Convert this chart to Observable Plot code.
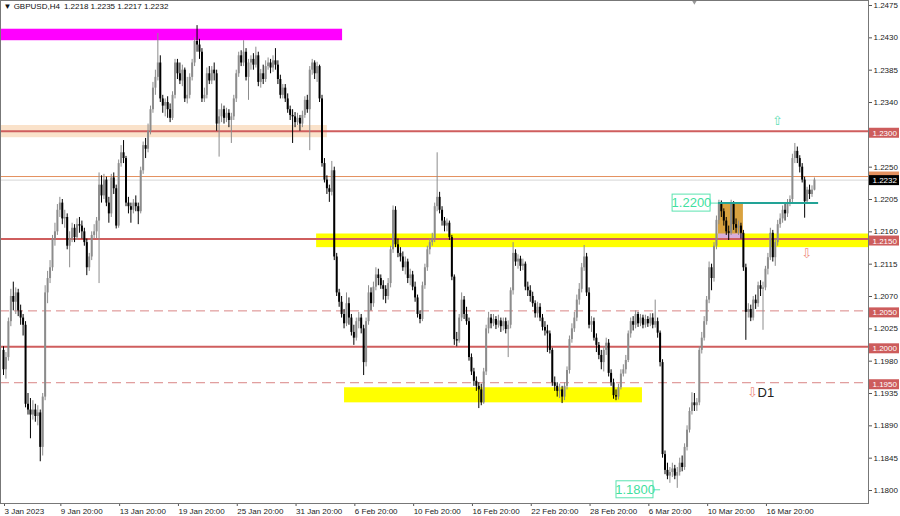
<!DOCTYPE html>
<html><head><meta charset="utf-8">
<script src="https://cdn.jsdelivr.net/npm/d3@7"></script>
<script src="https://cdn.jsdelivr.net/npm/@observablehq/plot@0.6"></script>
<style>
html,body{margin:0;padding:0;background:#fff;}
#chart{width:900px;height:516px;overflow:hidden;}
</style></head><body><div id="chart"></div>
<script>
// ---- data (prices as last four digits: 2218 => 1.2218) ----
const symbol = "GBPUSD,H4";
const openPips = [
1995,1968,1985,2035,2070,2062,2075,2050,2040,2030,
1920,1912,1905,1912,1903,1908,1860,1930,2075,2095,
2110,2150,2160,2190,2200,2178,2180,2140,2150,2165,
2152,2170,2168,2160,2145,2110,2125,2155,2160,2175,
2225,2210,2232,2200,2185,2235,2220,2168,2255,2270,
2262,2200,2195,2190,2200,2195,2188,2245,2280,2275,
2300,2330,2360,2375,2395,2345,2335,2340,2330,2318,
2350,2395,2380,2370,2385,2345,2350,2375,2395,2425,
2420,2410,2345,2350,2380,2370,2385,2380,2310,2320,
2330,2318,2325,2315,2320,2345,2380,2405,2395,2410,
2375,2395,2400,2392,2405,2368,2380,2372,2390,2395,
2388,2398,2392,2372,2350,2360,2345,2330,2322,2320,
2312,2318,2310,2322,2343,2330,2385,2395,2380,2390,
2345,2255,2232,2220,2215,2245,2125,2075,2062,2045,
2032,2060,2040,2020,2012,2035,2040,2025,1978,2035,
2075,2060,2083,2100,2095,2085,2080,2070,2088,2135,
2190,2142,2130,2125,2110,2118,2095,2100,2083,2068,
2045,2038,2085,2110,2135,2145,2150,2195,2208,2190,
2175,2168,2172,2152,2097,2010,2008,2040,2065,2045,
2035,1985,1965,1952,1945,1940,1922,1965,2025,2040,
2032,2038,2030,2036,2028,2035,2024,2030,2078,2130,
2118,2122,2112,2115,2083,2078,2070,2060,2046,2055,
2040,2027,2022,2018,1995,1950,1945,1938,1940,1930,
1945,1967,2010,2025,2040,2065,2080,2110,2125,2075,
2030,2035,2012,2002,1988,1978,1995,2005,1963,1950,
1932,1930,1943,1962,1968,1981,2018,2035,2030,2045,
2032,2040,2030,2038,2032,2040,2030,2035,2019,1978,
1850,1828,1820,1825,1830,1820,1825,1838,1832,1860,
1884,1910,1922,1918,1922,1995,2012,2035,2065,2110,
2095,2140,2176,2198,2188,2175,2160,2158,2198,2170,
2165,2168,2158,2110,2048,2052,2040,2065,2060,2085,
2080,2082,2108,2124,2158,2124,2145,2170,2178,2190,
2185,2200,2205,2262,2272,2262,2250,2232,2202,2218,
2212,2218];
const highPips = [
2000,1992,2040,2080,2090,2082,2080,2058,2045,2035,
1935,1928,1925,1920,1918,1912,1935,2085,2105,2120,
2155,2172,2198,2208,2205,2190,2185,2160,2172,2170,
2178,2180,2175,2165,2150,2130,2160,2170,2180,2242,
2238,2240,2236,2208,2240,2242,2225,2260,2280,2287,
2265,2208,2200,2205,2210,2200,2250,2285,2290,2310,
2335,2368,2385,2436,2405,2350,2345,2348,2338,2355,
2400,2400,2395,2392,2388,2375,2380,2400,2430,2447,
2428,2415,2360,2388,2390,2390,2395,2385,2330,2338,
2335,2332,2330,2325,2350,2385,2410,2412,2426,2415,
2400,2405,2408,2417,2410,2386,2392,2398,2402,2400,
2405,2415,2398,2378,2365,2365,2352,2335,2330,2326,
2325,2322,2328,2348,2350,2390,2400,2398,2396,2392,
2350,2262,2238,2225,2258,2250,2130,2080,2070,2052,
2075,2068,2045,2030,2040,2048,2045,2030,2040,2085,
2082,2090,2110,2108,2100,2092,2085,2095,2140,2196,
2195,2150,2138,2132,2125,2122,2108,2105,2090,2072,
2050,2090,2115,2140,2150,2158,2200,2270,2215,2195,
2180,2178,2175,2155,2100,2020,2045,2075,2070,2055,
2040,1990,1970,1958,1950,1948,1970,2030,2048,2045,
2045,2042,2044,2040,2040,2040,2036,2082,2145,2135,
2128,2126,2122,2118,2090,2085,2076,2064,2062,2060,
2045,2035,2030,2022,1998,1958,1950,1948,1945,1950,
1972,2015,2032,2048,2072,2088,2116,2141,2130,2082,
2042,2040,2018,2006,1995,2000,2012,2010,1968,1955,
1940,1948,1968,1975,1988,2022,2040,2042,2050,2048,
2045,2044,2044,2042,2046,2046,2065,2040,2022,1982,
1855,1838,1832,1838,1835,1832,1845,1848,1865,1890,
1915,1936,1935,1928,2000,2020,2042,2070,2118,2115,
2145,2182,2204,2203,2192,2180,2168,2204,2202,2178,
2175,2172,2162,2115,2060,2058,2070,2072,2090,2092,
2090,2112,2130,2165,2162,2150,2176,2185,2196,2200,
2205,2210,2268,2283,2278,2266,2255,2236,2222,2225,
2224,2235];
const lowPips = [
1960,1955,1980,2028,2050,2045,2042,2030,2015,1915,
1905,1872,1898,1895,1890,1840,1848,1925,2060,2088,
2105,2140,2155,2180,2170,2165,2135,2110,2145,2145,
2148,2158,2150,2140,2099,2105,2120,2150,2150,2088,
2200,2205,2195,2172,2180,2212,2164,2165,2250,2255,
2195,2185,2172,2185,2188,2170,2185,2240,2262,2270,
2295,2325,2350,2370,2340,2325,2320,2318,2312,2315,
2345,2372,2365,2362,2340,2338,2345,2370,2390,2410,
2400,2340,2340,2345,2365,2365,2370,2300,2264,2312,
2310,2312,2305,2283,2315,2340,2375,2390,2390,2370,
2343,2385,2385,2388,2362,2360,2365,2368,2385,2380,
2382,2385,2365,2345,2345,2340,2325,2315,2283,2305,
2308,2300,2305,2318,2325,2273,2378,2372,2368,2340,
2250,2228,2212,2201,2210,2120,2070,2055,2040,2025,
2028,2030,2015,2002,2008,2025,2018,1960,1972,2030,
2050,2055,2078,2085,2080,2065,2060,2065,2082,2130,
2138,2124,2118,2105,2100,2088,2085,2078,2062,2040,
2032,2035,2080,2105,2128,2140,2145,2188,2185,2168,
2160,2160,2148,2092,2002,2000,2005,2035,2038,2030,
1980,1960,1945,1938,1914,1918,1920,1960,2018,2025,
2028,2024,2026,2020,2022,2018,1985,2025,2072,2112,
2108,2105,2106,2078,2070,2062,2055,2040,2040,2035,
2022,2015,1992,1990,1945,1938,1930,1928,1921,1925,
1940,1962,2005,2020,2035,2058,2075,2105,2070,2025,
2020,2008,1992,1982,1968,1965,1988,1958,1945,1927,
1925,1926,1940,1958,1962,1978,2012,2022,2025,2027,
2028,2025,2026,2027,2028,2025,2026,2012,1972,1845,
1822,1815,1810,1818,1815,1803,1820,1826,1828,1855,
1880,1905,1910,1910,1918,1990,2008,2030,2060,2078,
2090,2135,2170,2180,2168,2155,2148,2155,2162,2158,
2155,2150,2105,2009,2040,2035,2036,2052,2055,2070,
2023,2078,2100,2120,2118,2112,2140,2165,2172,2175,
2180,2195,2200,2255,2255,2242,2228,2179,2198,2205,
2208,2217];
const closePips = [
1968,1985,2035,2070,2062,2075,2050,2040,2030,1920,
1912,1905,1912,1903,1908,1860,1930,2075,2095,2110,
2150,2160,2190,2200,2178,2180,2140,2150,2165,2152,
2170,2168,2160,2145,2110,2125,2155,2160,2175,2225,
2210,2232,2200,2185,2235,2220,2168,2255,2270,2262,
2200,2195,2190,2200,2195,2188,2245,2280,2275,2300,
2330,2360,2375,2395,2345,2335,2340,2330,2318,2350,
2395,2380,2370,2385,2345,2350,2375,2395,2425,2420,
2410,2345,2350,2380,2370,2385,2380,2310,2320,2330,
2318,2325,2315,2320,2345,2380,2405,2395,2410,2375,
2395,2400,2392,2405,2368,2380,2372,2390,2395,2388,
2398,2392,2372,2350,2360,2345,2330,2322,2320,2312,
2318,2310,2322,2343,2330,2385,2395,2380,2390,2345,
2255,2232,2220,2215,2245,2125,2075,2062,2045,2032,
2060,2040,2020,2012,2035,2040,2025,1978,2035,2075,
2060,2083,2100,2095,2085,2080,2070,2088,2135,2190,
2142,2130,2125,2110,2118,2095,2100,2083,2068,2045,
2038,2085,2110,2135,2145,2150,2195,2208,2190,2175,
2168,2172,2152,2097,2010,2008,2040,2065,2045,2035,
1985,1965,1952,1945,1940,1922,1965,2025,2040,2032,
2038,2030,2036,2028,2035,2024,2030,2078,2130,2118,
2122,2112,2115,2083,2078,2070,2060,2046,2055,2040,
2027,2022,2018,1995,1950,1945,1938,1940,1930,1945,
1967,2010,2025,2040,2065,2080,2110,2125,2075,2030,
2035,2012,2002,1988,1978,1995,2005,1963,1950,1932,
1930,1943,1962,1968,1981,2018,2035,2030,2045,2032,
2040,2030,2038,2032,2040,2030,2035,2019,1978,1850,
1828,1820,1825,1830,1820,1825,1838,1832,1860,1884,
1910,1922,1918,1922,1995,2012,2035,2065,2110,2095,
2140,2176,2198,2188,2175,2160,2158,2198,2170,2165,
2168,2158,2110,2048,2052,2040,2065,2060,2085,2080,
2082,2108,2124,2158,2124,2145,2170,2178,2190,2185,
2200,2205,2262,2272,2262,2250,2232,2202,2218,2212,
2218,2232];

const xTickBars = [0,23,47,71,95,119,143,167,191,215,239,263,287,311];
const xTickLabels = ["3 Jan 2023","9 Jan 20:00","13 Jan 20:00","19 Jan 20:00","25 Jan 20:00","31 Jan 20:00","6 Feb 20:00","10 Feb 20:00","16 Feb 20:00","22 Feb 20:00","28 Feb 20:00","6 Mar 20:00","10 Mar 20:00","16 Mar 20:00"];
const yTickValues = [1.2475,1.2430,1.2385,1.2340,1.2250,1.2205,1.2160,1.2115,1.2070,1.2025,1.1980,1.1935,1.1890,1.1845,1.1800];

const solidLevels = [1.2300, 1.2150, 1.2000];
const dashedLevels = [1.2050, 1.1950];
const markedLevels = [1.2300, 1.2150, 1.2050, 1.2000, 1.1950];
const bidPrice = 1.2232;
const orangeLevel = 1.2237;

// zones: bar spans (null = chart edge) and price bounds
const magentaZone = [{from: null, to: 138.4, low: 1.2426, high: 1.2442}];
const peachZone = [{from: null, to: 132.2, low: 1.2291, high: 1.2308}];
const upperYellowZone = [{from: 127.8, to: null, low: 1.2138, high: 1.2157}];
const lowerYellowZone = [{from: 139.2, to: 260.8, low: 1.1922, high: 1.1943}];
const orangeBox = [{from: 291.8, to: 302, low: 1.2148, high: 1.2200}];
const overlapStrip = [{from: 291.8, to: 302, low: 1.2148, high: 1.2157}];
const tealLine = [{from: 291.8, to: 332.7, price: 1.2200}];
const boxLabels = [
  {text: "1.2200", bar: 280.8, from: 273.1, to: 288.6, price: 1.2200, linkTo: 291.8},
  {text: "1.1800", bar: 257.8, from: 250.2, to: 265.3, price: 1.1801, linkTo: 268.2}
];
const upArrows = [{bar: 315.9, price: 1.2314}];
const downArrows = [{bar: 327.8, price: 1.2129}, {bar: 305.7, price: 1.1936}];
const tfLabel = [{bar: 307.8, price: 1.1936, text: "D1"}];
const shiftMarkerBar = [282];

// ---- chart ----
const xMin = -1.2245, xMax = 353.06;
const yMin = 1.178191, yMax = 1.248198;
const plotW = 868;
const pxPerBar = plotW / (xMax - xMin);
const pxPerPrice = 503 / (yMax - yMin);

const toPrice = p => 1 + p / 10000;
const candles = closePips.map((c, i) => ({
  bar: i, open: toPrice(openPips[i]), high: toPrice(highPips[i]),
  low: toPrice(lowPips[i]), close: toPrice(c)
}));
const bull = candles.filter(d => d.close >= d.open);
const bear = candles.filter(d => d.close < d.open);
const last = candles[candles.length - 1];
const f4 = v => v.toFixed(4);
const title = `\u25BC ${symbol}\u2002${f4(last.open)} ${f4(last.high)} ${f4(last.low)} ${f4(last.close)}`;
const labelMap = new Map(xTickBars.map((b, i) => [b, xTickLabels[i]]));
const L = d => d.from ?? xMin, R = d => d.to ?? xMax;
const labelW = 31 / pxPerBar;
const boxHalf = 8.5 / pxPerPrice;

const BULL = "#8c8c8c", BEAR = "#000";
const RED = "#CF5E5E", RED_LABEL = "#CD5C5C";
const FONT = "'Liberation Sans', Arial, sans-serif";

const chart = Plot.plot({
  width: 900, height: 516,
  marginLeft: 0, marginRight: 32, marginTop: 0, marginBottom: 13,
  x: {domain: [xMin, xMax]},
  y: {domain: [yMin, yMax]},
  style: {fontFamily: FONT, fontSize: "8px", background: "#fff", color: "#222"},
  marks: [
    // zones
    Plot.rect(peachZone, {x1: L, x2: R, y1: "low", y2: "high", fill: "#FAE2CA"}),
    Plot.rect(magentaZone, {x1: L, x2: R, y1: "low", y2: "high", fill: "#FF00FF"}),
    Plot.rect(upperYellowZone, {x1: L, x2: R, y1: "low", y2: "high", fill: "#FFFF00"}),
    Plot.rect(lowerYellowZone, {x1: L, x2: R, y1: "low", y2: "high", fill: "#FFFF00"}),
    Plot.rect(orangeBox, {x1: L, x2: R, y1: "low", y2: "high", fill: "#D9A23F"}),
    Plot.rect(overlapStrip, {x1: L, x2: R, y1: "low", y2: "high", fill: "#D9AEDB"}),
    // levels
    Plot.ruleY(dashedLevels, {stroke: "#D98585", strokeWidth: 1, strokeDasharray: "9,5"}),
    Plot.ruleY(solidLevels, {stroke: RED, strokeWidth: 2}),
    Plot.ruleY([orangeLevel], {stroke: "#E4915F", strokeWidth: 1}),
    Plot.ruleY([bidPrice], {stroke: "#d6d6d6", strokeWidth: 1}),
    // candles
    Plot.ruleX(bull, {x: "bar", y1: "low", y2: "high", stroke: BULL, strokeWidth: 1}),
    Plot.ruleX(bear, {x: "bar", y1: "low", y2: "high", stroke: BEAR, strokeWidth: 1}),
    Plot.ruleX(bull, {x: "bar", y1: "open", y2: "close", stroke: BULL, strokeWidth: 2}),
    Plot.ruleX(bear, {x: "bar", y1: "open", y2: "close", stroke: BEAR, strokeWidth: 2}),
    // teal level and boxed labels
    Plot.ruleY(tealLine, {y: "price", x1: "from", x2: "to", stroke: "#22A396", strokeWidth: 2}),
    Plot.ruleY(boxLabels, {y: "price", x1: "to", x2: "linkTo", stroke: "#5BE3B0", strokeWidth: 1}),
    Plot.rect(boxLabels, {x1: "from", x2: "to", y1: d => d.price - boxHalf, y2: d => d.price + boxHalf, fill: "#fff", stroke: "#5BE3B0", strokeWidth: 1}),
    Plot.text(boxLabels, {x: "bar", y: "price", text: "text", fill: "#3FDFA0", fontSize: 13, fontFamily: FONT}),
    // arrows and D1
    Plot.text(upArrows, {x: "bar", y: "price", text: () => "\u21E7", fill: "#5FE0B5", fontSize: 13, fontFamily: "DejaVu Sans"}),
    Plot.text(downArrows, {x: "bar", y: "price", text: () => "\u21E9", fill: "#EE8E80", fontSize: 13, fontFamily: "DejaVu Sans"}),
    Plot.text(tfLabel, {x: "bar", y: "price", text: "text", textAnchor: "start", fill: "#222", fontSize: 13, fontFamily: FONT}),
    // title and shift marker
    Plot.text([title], {frameAnchor: "top-left", dx: 3, dy: 3, lineAnchor: "top", textAnchor: "start", fill: "#111", fontSize: 8}),
    Plot.dot(shiftMarkerBar, {x: d => d, frameAnchor: "top", symbol: "triangle2", rotate: 180, r: 3.5, fill: "#9a9a9a", stroke: "none"}),
    // axes
    Plot.axisX({ticks: xTickBars, tickFormat: d => labelMap.get(d), anchor: "bottom", tickSize: 3, tickPadding: 2, textAnchor: "start", dx: 1, fontSize: 8, label: null, stroke: "#555"}),
    Plot.axisY({ticks: yTickValues, tickFormat: f4, anchor: "right", tickSize: 3, tickPadding: 2, fontSize: 8, label: null, stroke: "#555"}),
    // right-side price labels
    Plot.ruleY([orangeLevel], {x1: xMax, x2: xMax + labelW, stroke: "#E4915F", strokeWidth: 10}),
    Plot.ruleY(markedLevels, {x1: xMax, x2: xMax + labelW, stroke: RED_LABEL, strokeWidth: 10, dy: 1.5}),
    Plot.ruleY([bidPrice], {x1: xMax, x2: xMax + labelW, stroke: "#000", strokeWidth: 10}),
    Plot.text(markedLevels, {x: xMax, y: d => d, text: f4, dx: 4, dy: 2, textAnchor: "start", fill: "#fff", fontSize: 8}),
    Plot.text([bidPrice], {x: xMax, y: d => d, text: f4, dx: 4, textAnchor: "start", fill: "#fff", fontSize: 8}),
    Plot.frame({stroke: "#777"})
  ]
});
document.getElementById("chart").appendChild(chart);
</script>
</body></html>
